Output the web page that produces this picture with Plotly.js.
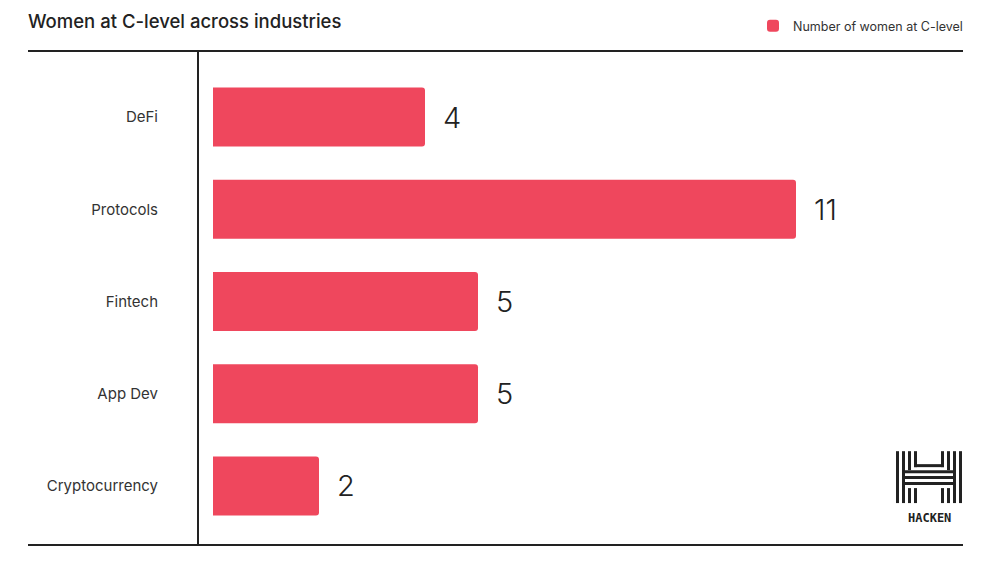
<!DOCTYPE html>
<html>
<head>
<meta charset="utf-8">
<script src="https://cdn.plot.ly/plotly-3.0.1.min.js"></script>
<style>html,body{margin:0;padding:0;background:#fff;}#chart{width:1000px;height:564px;}</style>
</head>
<body>
<div id="chart"></div>
<script>
var categories = ["DeFi", "Protocols", "Fintech", "App Dev", "Cryptocurrency"];
var womenCount = [4, 11, 5, 5, 2];
var seriesName = "Number of women at C-level";
var chartTitle = "Women at C-level across industries";

var W = 1000, H = 564;
var M = {l: 198, r: 37, t: 70, b: 32};
var PW = W - M.l - M.r, PH = H - M.t - M.b;
function px(x) { return (x - M.l) / PW; }
function py(y) { return (H - M.b - y) / PH; }

var BAR = "#EF475D", INK = "#222222";

var shapes = [
  {type: "line", xref: "paper", yref: "paper", x0: px(28), x1: px(963), y0: py(50), y1: py(50), line: {color: INK, width: 2}},
  {type: "line", xref: "paper", yref: "paper", x0: px(28), x1: px(963), y0: py(545), y1: py(545), line: {color: INK, width: 2}},
  {type: "line", xref: "paper", yref: "paper", x0: px(198), x1: px(198), y0: py(50), y1: py(545), line: {color: INK, width: 2}}
];

// Hacken logo (decorative, drawn as rectangles)
function rect(x0, y0, x1, y1) {
  shapes.push({type: "rect", xref: "paper", yref: "paper", x0: px(x0), x1: px(x1), y0: py(y1), y1: py(y0), fillcolor: INK, line: {width: 0}});
}
rect(896, 451, 899, 503);
rect(902, 451, 905, 503);
rect(908, 451, 911, 470);
rect(908, 488, 911, 503);
rect(959, 451, 962, 503);
rect(953, 451, 956, 503);
rect(947, 451, 950, 470);
rect(947, 488, 950, 503);
rect(914, 451, 917, 467);
rect(914, 464, 944, 467);
rect(941, 451, 944, 467);
rect(905, 470, 953, 473);
rect(905, 476, 953, 479);
rect(902, 482, 956, 485);
rect(914, 488, 917, 503);
rect(941, 488, 944, 503);

var annotations = categories.map(function (c, i) {
  return {x: womenCount[i], y: c, xref: "x", yref: "y", text: String(womenCount[i]), showarrow: false,
    xanchor: "left", yanchor: "middle", xshift: 16, font: {family: "Inter, 'Open Sans', sans-serif", size: 29, color: INK, weight: 300}};
});
annotations.push({xref: "paper", yref: "paper", x: px(929), y: py(518), text: "HACKEN", showarrow: false,
  xanchor: "center", yanchor: "middle", font: {family: "'DejaVu Sans Mono', monospace", size: 12, color: INK, weight: 700}});

var trace = {
  type: "bar",
  orientation: "h",
  y: categories,
  x: womenCount,
  name: seriesName,
  marker: {color: BAR, line: {width: 0}},
  width: 0.64,
  showlegend: true,
  hoverinfo: "x+y"
};

var layout = {
  width: W, height: H,
  margin: M,
  paper_bgcolor: "#fff", plot_bgcolor: "#fff",
  font: {family: "Inter, 'Open Sans', sans-serif", color: "#333"},
  title: {text: chartTitle, xref: "container", yref: "container", x: 0.028, xanchor: "left", y: 1 - 22 / H, yanchor: "middle",
    font: {family: "Inter, sans-serif", size: 18.5, color: INK, weight: 500}},
  barcornerradius: 3,
  xaxis: {range: [-15 / 53, 750 / 53], showgrid: false, zeroline: false, showticklabels: false, ticks: "", showline: false, fixedrange: true},
  yaxis: {autorange: "reversed", type: "category", showgrid: false, zeroline: false, showline: false,
    ticks: "outside", ticklen: 36, tickcolor: "rgba(0,0,0,0)", tickfont: {size: 15, color: "#333"}, fixedrange: true},
  showlegend: true,
  legend: {orientation: "h", x: px(968), xanchor: "right", xref: "paper", y: py(26), yanchor: "middle",
    font: {size: 12.5, color: "#333"}, bgcolor: "rgba(0,0,0,0)"},
  shapes: shapes,
  annotations: annotations
};

Plotly.newPlot("chart", [trace], layout, {displayModeBar: false, staticPlot: true});
</script>
</body>
</html>
